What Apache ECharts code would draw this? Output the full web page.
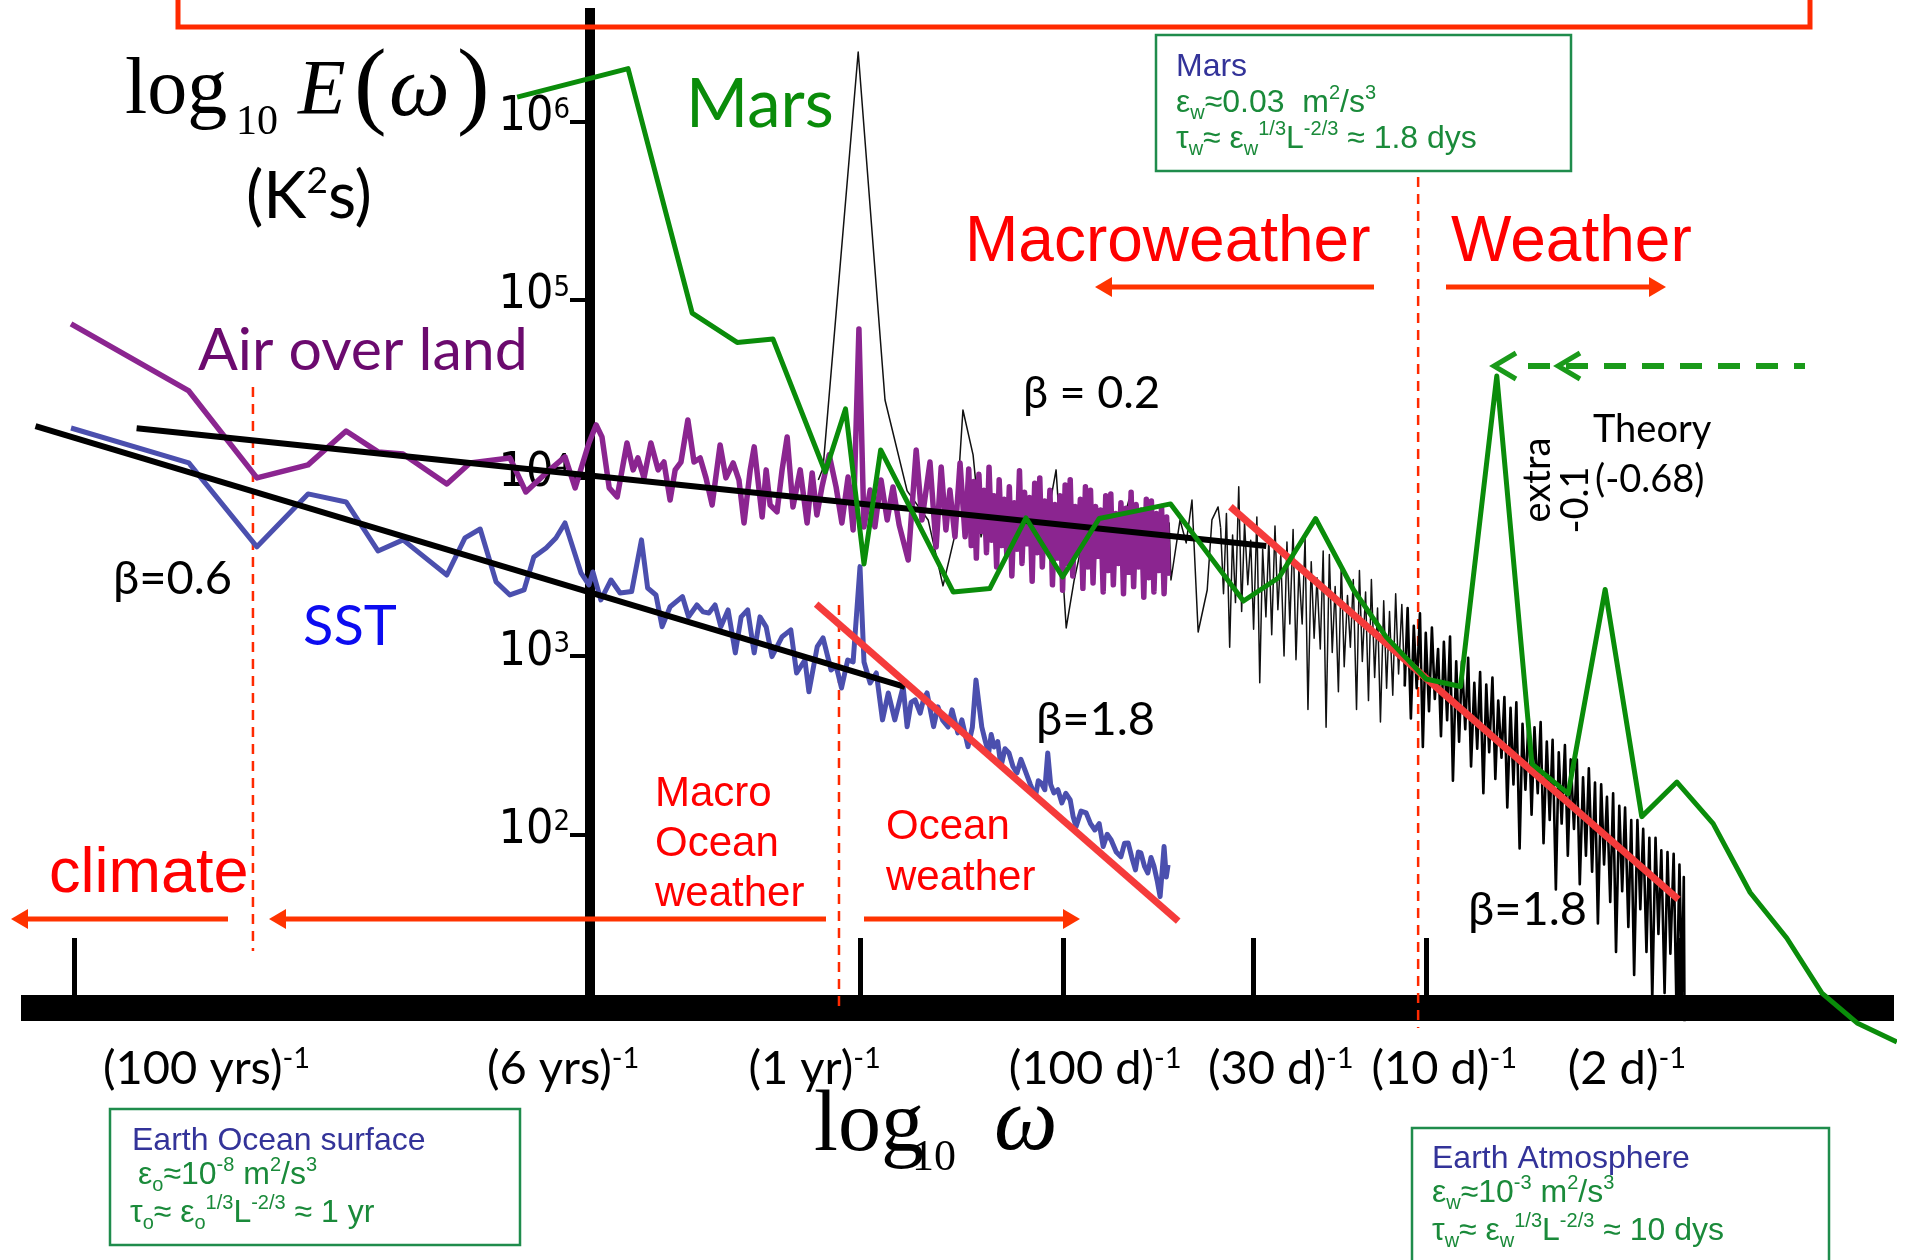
<!DOCTYPE html>
<html><head><meta charset="utf-8">
<script src="https://cdn.jsdelivr.net/npm/echarts@6/dist/echarts.min.js"></script>
<style>html,body{margin:0;padding:0;background:#fff}#c{width:1907px;height:1260px}</style>
</head><body><div id="c"></div><script>
// ---------- DATA (log10 omega [1/yr] , log10 E [K^2 s]) ----------
const yDecades = [2, 3, 4, 5, 6];
const xTickPos = [-2.169, 0, 0.562, 1.085, 1.562, 2.262];
const xLabelPos = [-1.803, -0.819, -0.125, 0.649, 1.161, 1.612, 2.116];
const xLabelText = ['(100 yrs)', '(6 yrs)', '(1 yr)', '(100 d)', '(30 d)', '(10 d)', '(2 d)'];

const airOverLand = [[-2.177,4.864],[-1.852,4.488],[-1.664,4.000],[-1.523,4.073],[-1.418,4.263],[-1.330,4.146],[-1.261,4.134],[-1.140,3.966],[-1.076,4.084],[-0.966,4.112],[-0.922,3.921],[-0.866,4.028],[-0.814,4.118],[-0.786,3.944],[-0.748,4.196],[-0.728,4.297],[-0.712,4.230],[-0.692,3.944],[-0.670,3.893],[-0.643,4.196],[-0.626,4.045],[-0.613,4.112],[-0.596,4.000],[-0.577,4.196],[-0.557,4.045],[-0.541,4.089],[-0.524,3.876],[-0.510,4.045],[-0.494,4.089],[-0.475,4.325],[-0.458,4.089],[-0.441,4.112],[-0.425,4.000],[-0.408,3.848],[-0.386,4.185],[-0.370,4.000],[-0.350,4.084],[-0.334,3.988],[-0.320,3.747],[-0.303,4.045],[-0.292,4.174],[-0.270,3.781],[-0.259,4.045],[-0.248,3.848],[-0.229,3.809],[-0.215,4.045],[-0.201,4.230],[-0.185,3.837],[-0.165,4.045],[-0.146,3.747],[-0.132,4.028],[-0.119,3.792],[-0.105,3.949],[-0.085,4.129],[-0.066,3.949],[-0.050,3.747],[-0.033,4.005],[-0.019,3.708],[-0.003,4.836],[0.011,3.725],[0.028,3.932],[0.041,3.725],[0.058,3.988],[0.075,3.764],[0.091,3.949],[0.108,3.736],[0.133,3.539],[0.155,4.157],[0.171,3.764],[0.193,4.089],[0.210,3.612],[0.224,4.061],[0.237,3.708],[0.248,3.932],[0.262,3.669],[0.276,4.084],[0.290,3.669],
[0.300,4.05],[0.307,3.62],[0.314,3.98],[0.321,3.55],[0.328,4.02],[0.335,3.70],[0.342,3.93],[0.349,3.58],[0.356,4.06],[0.363,3.65],[0.370,3.90],[0.377,3.50],[0.384,3.99],[0.391,3.62],[0.398,3.88],[0.405,3.57],[0.412,3.95],[0.419,3.45],[0.426,3.86],[0.433,3.60],[0.440,4.04],[0.447,3.52],[0.454,3.92],[0.461,3.63],[0.468,3.89],[0.475,3.42],[0.482,3.97],[0.489,3.58],[0.496,4.00],[0.503,3.50],[0.510,3.87],[0.517,3.61],[0.524,3.93],[0.531,3.40],[0.538,3.85],[0.545,3.55],[0.552,3.90],[0.559,3.37],[0.566,3.96],[0.573,3.52],[0.580,3.99],[0.587,3.45],[0.594,3.84],[0.601,3.60],[0.608,3.88],[0.615,3.38],[0.622,3.95],[0.629,3.50],[0.636,3.93],[0.643,3.41],[0.650,3.84],[0.657,3.56],[0.664,3.82],[0.671,3.36],[0.678,3.90],[0.685,3.48],[0.692,3.91],[0.699,3.40],[0.706,3.80],[0.713,3.52],[0.720,3.86],[0.727,3.35],[0.734,3.83],[0.741,3.47],[0.748,3.92],[0.755,3.39],[0.762,3.85],[0.769,3.50],[0.776,3.82],[0.783,3.33],[0.790,3.88],[0.797,3.44],[0.804,3.87],[0.811,3.36],[0.818,3.80],[0.825,3.48],[0.832,3.84],[0.839,3.35],[0.846,3.78],[0.850,3.45]];

const sst = [[-2.177,4.280],[-1.852,4.084],[-1.664,3.613],[-1.523,3.910],[-1.418,3.865],[-1.330,3.590],[-1.261,3.652],[-1.140,3.455],[-1.090,3.663],[-1.048,3.713],[-1.004,3.416],[-0.966,3.343],[-0.927,3.371],[-0.900,3.556],[-0.866,3.607],[-0.839,3.663],[-0.814,3.747],[-0.770,3.467],[-0.748,3.399],[-0.737,3.472],[-0.715,3.315],[-0.687,3.427],[-0.662,3.354],[-0.630,3.362],[-0.603,3.652],[-0.586,3.382],[-0.563,3.343],[-0.546,3.165],[-0.524,3.277],[-0.490,3.334],[-0.473,3.221],[-0.450,3.287],[-0.433,3.248],[-0.417,3.242],[-0.400,3.287],[-0.384,3.165],[-0.364,3.259],[-0.344,3.018],[-0.328,3.220],[-0.310,3.259],[-0.292,3.018],[-0.276,3.220],[-0.259,3.164],[-0.243,2.997],[-0.215,3.109],[-0.191,3.147],[-0.175,2.905],[-0.152,2.978],[-0.141,2.800],[-0.118,3.053],[-0.102,3.102],[-0.080,2.922],[-0.066,2.945],[-0.051,2.821],[-0.034,2.978],[-0.019,2.967],[0.000,3.502],[0.011,2.967],[0.028,2.849],[0.045,2.905],[0.062,2.642],[0.078,2.793],[0.096,2.642],[0.119,2.829],[0.130,2.604],[0.141,2.740],[0.152,2.754],[0.166,2.680],[0.175,2.754],[0.185,2.793],[0.203,2.604],[0.215,2.715],[0.228,2.640],[0.243,2.602],[0.254,2.698],[0.270,2.569],[0.281,2.642],[0.298,2.492],[0.310,2.600],[0.320,2.866],[0.336,2.602],[0.346,2.520],[0.355,2.456],[0.362,2.560],[0.370,2.490],[0.380,2.520],[0.389,2.380],[0.400,2.480],[0.411,2.456],[0.422,2.380],[0.433,2.344],[0.444,2.420],[0.455,2.361],[0.470,2.280],[0.484,2.211],[0.492,2.300],[0.500,2.288],[0.510,2.250],[0.518,2.456],[0.526,2.280],[0.535,2.232],[0.546,2.250],[0.557,2.176],[0.568,2.230],[0.580,2.193],[0.588,2.100],[0.596,2.043],[0.610,2.130],[0.624,2.120],[0.636,2.060],[0.648,2.024],[0.660,2.060],[0.671,1.931],[0.682,2.000],[0.693,1.968],[0.707,1.900],[0.720,1.874],[0.730,1.950],[0.740,1.951],[0.750,1.870],[0.760,1.800],[0.768,1.900],[0.775,1.895],[0.785,1.820],[0.794,1.783],[0.803,1.870],[0.811,1.822],[0.820,1.740],[0.828,1.650],[0.834,1.800],[0.839,1.931],[0.845,1.760],[0.850,1.828]];

const mars = [[-0.946,6.137],[-0.640,6.297],[-0.463,4.925],[-0.339,4.760],[-0.240,4.779],[-0.096,4.033],[-0.040,4.387],[0.011,3.517],[0.057,4.157],[0.257,3.360],[0.358,3.379],[0.458,3.775],[0.559,3.444],[0.660,3.772],[0.757,3.812],[0.857,3.854],[1.058,3.309],[1.156,3.441],[1.257,3.772],[1.362,3.371],[1.451,3.109],[1.562,2.871],[1.657,2.829],[1.757,4.572],[1.854,2.395],[1.954,2.228],[2.056,3.374],[2.157,2.099],[2.254,2.293],[2.354,2.060],[2.456,1.673],[2.557,1.418],[2.654,1.109],[2.751,0.941],[2.861,0.834]];

// Earth atmosphere spectrum, three frequency ranges
const atmosphereLow = [[-0.115,3.988],[-0.102,4.056],[-0.005,6.390],[0.069,4.437],[0.130,3.927],[0.188,3.764],[0.229,3.394],[0.262,3.680],[0.284,4.381],[0.312,4.129],[0.334,3.669],[0.359,3.876],[0.386,3.736],[0.414,3.876],[0.442,3.764],[0.480,3.803],[0.511,3.708],[0.541,4.045],[0.569,3.158],[0.591,3.427],[0.621,3.708],[0.649,3.539],[0.676,3.764],[0.709,3.624],[0.742,3.876],[0.773,3.539],[0.800,3.764],[0.828,3.483],[0.853,3.747],[0.858,3.427],[0.883,3.764],[0.900,3.635],[0.916,3.876],[0.933,3.135],[0.958,3.371],[0.971,3.764],[0.988,3.837],[0.995,3.72]];
const atmosphereMid = [[0.995,3.72],[1.003,3.35],[1.011,3.80],[1.020,3.05],[1.028,3.68],[1.036,3.30],[1.045,3.95],[1.053,3.25],[1.061,3.75],[1.070,3.40],[1.078,3.65],[1.086,3.15],[1.095,3.78],[1.103,2.85],[1.111,3.60],[1.120,3.22],[1.128,3.66],[1.136,3.12],[1.145,3.73],[1.153,3.26],[1.161,3.57],[1.170,3.00],[1.178,3.64],[1.186,3.18],[1.195,3.71],[1.203,2.98],[1.211,3.49],[1.220,3.18],[1.228,3.66],[1.236,2.70],[1.245,3.53],[1.253,3.10],[1.261,3.44],[1.270,3.04],[1.278,3.59],[1.286,2.60],[1.295,3.57],[1.303,3.02],[1.311,3.39],[1.320,2.80],[1.328,3.52],[1.336,2.94],[1.345,3.34],[1.353,3.05],[1.361,3.43],[1.370,2.70],[1.378,3.48],[1.386,2.97],[1.395,3.36],[1.403,2.75],[1.411,3.43],[1.420,2.88],[1.428,3.27],[1.436,2.63],[1.445,3.31],[1.453,2.82],[1.461,3.25],[1.470,2.78],[1.478,3.35],[1.486,2.90],[1.495,3.29],[1.503,2.83]];
const atmosphereHigh = [[1.503,2.83],[1.511,3.27],[1.520,2.65],[1.528,3.17],[1.536,2.82],[1.545,3.24],[1.553,2.49],[1.561,3.13],[1.570,2.69],[1.578,3.16],[1.586,2.76],[1.595,3.04],[1.603,2.55],[1.611,3.08],[1.620,2.64],[1.628,3.11],[1.636,2.30],[1.645,2.97],[1.653,2.52],[1.661,2.97],[1.670,2.59],[1.678,2.99],[1.686,2.38],[1.695,2.85],[1.703,2.48],[1.711,2.91],[1.720,2.23],[1.728,2.84],[1.736,2.46],[1.745,2.88],[1.753,2.31],[1.761,2.75],[1.770,2.43],[1.778,2.77],[1.786,2.15],[1.795,2.71],[1.803,2.28],[1.811,2.74],[1.820,1.92],[1.828,2.62],[1.836,2.25],[1.845,2.66],[1.853,2.11],[1.861,2.60],[1.870,2.23],[1.878,2.63],[1.886,1.95],[1.895,2.52],[1.903,2.08],[1.911,2.53],[1.920,1.69],[1.928,2.46],[1.936,2.06],[1.945,2.50],[1.953,1.88],[1.961,2.42],[1.970,2.03],[1.978,2.42],[1.986,1.72],[1.995,2.32],[2.003,1.88],[2.011,2.37],[2.020,1.79],[2.028,2.29],[2.036,1.50],[2.045,2.28],[2.053,1.83],[2.061,2.21],[2.070,1.62],[2.078,2.23],[2.086,1.34],[2.095,2.16],[2.103,1.68],[2.111,2.15],[2.120,1.48],[2.128,2.08],[2.136,1.21],[2.145,2.08],[2.153,1.58],[2.161,2.03],[2.170,1.34],[2.178,1.98],[2.186,1.07],[2.195,1.98],[2.203,1.44],[2.211,1.91],[2.220,1.11],[2.228,1.90],[2.236,1.33],[2.245,1.89],[2.253,1.00],[2.261,1.83],[2.268,1.12],[2.273,1.76],[2.275,0.95]];

const fitAir = [[-1.996,4.278],[1.121,3.618]];      // beta = 0.2
const fitSst = [[-2.275,4.291],[0.124,2.827]];      // beta = 0.6
const fitOcean = [[-0.121,3.292],[0.878,1.513]];    // beta = 1.8
const fitAtm = [[1.022,3.838],[2.258,1.635]];       // beta = 1.8
const breakClimate = [[-1.675,4.510],[-1.675,1.345]];
const breakOcean = [[-0.058,3.287],[-0.058,1.025]];
const breakWeather = [[1.540,5.689],[1.540,0.913]];

// ---------- STYLE ----------
const SANS = 'Lato, "Open Sans", "Noto Sans", sans-serif';
const ARIAL = '"Liberation Sans", Arial, sans-serif';
const NARROW = '"Liberation Sans Narrow", "DejaVu Sans Condensed", "Liberation Sans", sans-serif';
const SERIF = '"Liberation Serif", "DejaVu Serif", serif';
const RED = '#ff0000', ARROW = '#ff3300', BOXC = '#1f8c4c', BOXT = '#333399', BOXG = '#1a8a3a';

function line(name, data, color, width, extra) {
  return Object.assign({
    type: 'line', name: name, data: data, symbol: 'none', showSymbol: false, clip: false,
    silent: true, animation: false,
    lineStyle: Object.assign({ color: color, width: width, join: 'round' }, (extra && extra.ls) || {})
  }, (extra && extra.s) || {});
}

const G = [];
function txt(x, y, s, font, fill, o) {
  o = o || {};
  const st = Object.assign({ text: s, font: font, fill: fill, align: o.align || 'left', verticalAlign: 'middle',
    textAlign: o.align || 'left', textVerticalAlign: 'middle' }, o.style || {});
  const e = { type: 'text', x: x, y: y, z: 100, style: st };
  if (o.rotation) e.rotation = o.rotation;
  G.push(e);
}
function arrow(x1, x2, y, color, w, hl, hw) {
  const d = x2 > x1 ? 1 : -1;
  G.push({ type: 'line', z: 90, shape: { x1: x1, y1: y, x2: x2 - d * hl * 0.7, y2: y }, style: { stroke: color, lineWidth: w } });
  G.push({ type: 'polygon', z: 90, shape: { points: [[x2, y], [x2 - d * hl, y - hw / 2], [x2 - d * hl, y + hw / 2]] }, style: { fill: color } });
}
function rect(x, y, w, h, color, lw) {
  G.push({ type: 'rect', z: 80, shape: { x: x, y: y, width: w, height: h }, style: { fill: 'none', stroke: color, lineWidth: lw } });
}
const boxRich = {
  n: { fontSize: 32, fontFamily: ARIAL, lineHeight: 40, fill: BOXG },
  b: { fontSize: 20, fontFamily: ARIAL, lineHeight: 20, verticalAlign: 'bottom', fill: BOXG },
  p: { fontSize: 20, fontFamily: ARIAL, lineHeight: 20, verticalAlign: 'top', fill: BOXG }
};
function rich(x, y, s, r) {
  G.push({ type: 'text', x: x, y: y, z: 100, style: { text: s, rich: r, align: 'left', verticalAlign: 'middle', textAlign: 'left', textVerticalAlign: 'middle' } });
}

// top red frame
rect(178, -20, 1632, 47, '#ff2a00', 5);

// axis titles
txt(125, 91.5, 'log', '80px ' + SERIF, '#000');
txt(236, 122.8, '10', '42px ' + SERIF, '#000');
txt(298, 92.8, 'E', 'italic 78px ' + SERIF, '#000');
txt(354, 90.6, '(', '98px ' + SERIF, '#000');
txt(389, 92, 'ω', 'italic 86px ' + SERIF, '#000');
txt(457, 90.6, ')', '98px ' + SERIF, '#000');
rich(246, 197, '{n|(K}{s|2}{n|s)}', {
  n: { fontSize: 65, fontFamily: SANS, lineHeight: 68, fill: '#000' },
  s: { fontSize: 37, fontFamily: SANS, lineHeight: 36, verticalAlign: 'top', fill: '#000' }
});
txt(814, 1127, 'log', '86px ' + SERIF, '#000');
txt(912, 1158, '10', '44px ' + SERIF, '#000');
txt(994, 1125.6, 'ω', 'italic 90px ' + SERIF, '#000');

// series labels
txt(686, 105.5, 'Mars', '67px ' + SANS, '#0a8c0a');
txt(198, 350.7, 'Air over land', '59px ' + SANS, '#6b0a6e');
txt(303, 626.7, 'SST', '56px ' + SANS, '#0c0cf0');
txt(113, 579, 'β=0.6', '47px ' + SANS, '#000');
txt(1023, 393, 'β = 0.2', '45px ' + SANS, '#000');
txt(1036, 720, 'β=1.8', '47px ' + SANS, '#000');
txt(1468, 910, 'β=1.8', '47px ' + SANS, '#000');
txt(1593, 430, 'Theory', '38px ' + SANS, '#000');
txt(1595, 480, '(-0.68)', '38px ' + SANS, '#000');
txt(1538, 480, 'extra', '38px ' + SANS, '#000', { align: 'center', rotation: Math.PI / 2 });
txt(1576, 500, '-0.1', '38px ' + SANS, '#000', { align: 'center', rotation: Math.PI / 2 });

// regime labels
txt(965, 243, 'Macroweather', '64px ' + ARIAL, RED);
txt(1451, 243, 'Weather', '64px ' + ARIAL, RED);
txt(49, 875, 'climate', '63px ' + ARIAL, RED);
txt(655, 794.5, 'Macro', '42px ' + ARIAL, RED);
txt(655, 844.5, 'Ocean', '42px ' + ARIAL, RED);
txt(655, 894.5, 'weather', '42px ' + ARIAL, RED);
txt(886, 827.4, 'Ocean', '42px ' + ARIAL, RED);
txt(886, 878.4, 'weather', '42px ' + ARIAL, RED);

// arrows
arrow(1374, 1095, 287, ARROW, 5, 17, 20);
arrow(1446, 1666, 287, ARROW, 5, 17, 20);
arrow(228, 11, 919, ARROW, 5, 17, 20);
arrow(826, 269, 919, ARROW, 5, 17, 20);
arrow(864, 1080, 919, ARROW, 5, 17, 20);

// theory dashed arrow
G.push({ type: 'line', z: 90, shape: { x1: 1528, y1: 366, x2: 1805, y2: 366 }, style: { stroke: '#1a9a1a', lineWidth: 6, lineDash: [22, 16] } });
G.push({ type: 'polyline', z: 90, shape: { points: [[1516, 353], [1494, 366], [1516, 379]] }, style: { stroke: '#1a9a1a', lineWidth: 5, fill: 'none' } });
G.push({ type: 'polyline', z: 90, shape: { points: [[1580, 353], [1558, 366], [1580, 379]] }, style: { stroke: '#1a9a1a', lineWidth: 5, fill: 'none' } });

// info boxes
rect(1156, 35, 415, 136, BOXC, 2.5);
txt(1176, 67.2, 'Mars', '32px ' + ARIAL, BOXT);
rich(1176, 103.4, '{n|ε}{b|w}{n|≈0.03  m}{p|2}{n|/s}{p|3}', boxRich);
rich(1176, 139.6, '{n|τ}{b|w}{n|≈ ε}{b|w}{p|1/3}{n|L}{p|-2/3}{n| ≈ 1.8 dys}', boxRich);

rect(110, 1109, 410, 136, BOXC, 2.5);
txt(132, 1140.9, 'Earth Ocean surface', '32px ' + ARIAL, BOXT);
rich(138, 1175.4, '{n|ε}{b|o}{n|≈10}{p|-8}{n| m}{p|2}{n|/s}{p|3}', boxRich);
rich(130, 1213.5, '{n|τ}{b|o}{n|≈ ε}{b|o}{p|1/3}{n|L}{p|-2/3}{n| ≈ 1 yr}', boxRich);

rect(1412, 1128, 417, 150, BOXC, 2.5);
txt(1432, 1158.9, 'Earth Atmosphere', '32px ' + ARIAL, BOXT);
rich(1432, 1193.4, '{n|ε}{b|w}{n|≈10}{p|-3}{n| m}{p|2}{n|/s}{p|3}', boxRich);
rich(1432, 1231.6, '{n|τ}{b|w}{n|≈ ε}{b|w}{p|1/3}{n|L}{p|-2/3}{n| ≈ 10 dys}', boxRich);

// ---------- CHART ----------
const chart = echarts.init(document.getElementById('c'), null, { renderer: 'canvas' });
const dashRed = { ls: { type: [10, 7], cap: 'butt' } };
chart.setOption({
  animation: false,
  backgroundColor: '#ffffff',
  grid: { left: 21, right: 13, top: 8, bottom: 252, containLabel: false, outerBoundsMode: 'none' },
  xAxis: {
    type: 'value', min: -2.315, max: 2.853,
    axisLine: { show: true, onZero: false, lineStyle: { color: '#000', width: 26, cap: 'butt' } },
    axisTick: { show: true, inside: true, length: 70, customValues: xTickPos, lineStyle: { color: '#000', width: 5 } },
    axisLabel: {
      show: true, customValues: xLabelPos, margin: 36,
      formatter: function (v) {
        let idx = 0, best = 1e9;
        xLabelPos.forEach(function (p, i) { const d = Math.abs(p - v); if (d < best) { best = d; idx = i; } });
        return '{n|' + xLabelText[idx] + '}{s|-1}';
      },
      rich: {
        n: { fontSize: 47, fontFamily: SANS, color: '#000', lineHeight: 50 },
        s: { fontSize: 29, fontFamily: SANS, color: '#000', lineHeight: 28, verticalAlign: 'top' }
      }
    },
    splitLine: { show: false }
  },
  yAxis: {
    type: 'value', min: 1.025, max: 6.637, offset: -569,
    axisLine: { show: true, onZero: false, lineStyle: { color: '#000', width: 10, cap: 'butt' } },
    axisTick: { show: true, length: 20, customValues: yDecades, lineStyle: { color: '#000', width: 4 } },
    axisLabel: {
      show: true, customValues: yDecades, margin: 20,
      formatter: function (v) { return '{b|10}{s|' + Math.round(v) + '}'; },
      rich: {
        b: { fontSize: 48, fontFamily: NARROW, color: '#000', lineHeight: 52, padding: [0, 0, 8, 0] },
        s: { fontSize: 29, fontFamily: NARROW, color: '#000', lineHeight: 28, verticalAlign: 'top' }
      }
    },
    splitLine: { show: false }
  },
  series: [
    line('Break climate', breakClimate, '#ff2a00', 2.5, dashRed),
    line('Break ocean', breakOcean, '#ff2a00', 2.5, dashRed),
    line('Break weather', breakWeather, '#ff2a00', 2.5, dashRed),
    line('Earth atmosphere (low)', atmosphereLow, '#111111', 1.5),
    line('Earth atmosphere (mid)', atmosphereMid, '#111111', 1.5),
    line('Earth atmosphere (high)', atmosphereHigh, '#000000', 2.6),
    line('Air over land', airOverLand, '#8b2590', 5.5),
    line('SST', sst, '#4b4fae', 5),
    line('Fit air', fitAir, '#000', 6, { ls: { cap: 'butt' } }),
    line('Fit SST', fitSst, '#000', 6, { ls: { cap: 'butt' } }),
    line('Fit ocean', fitOcean, '#f53b3b', 7, { ls: { cap: 'butt' } }),
    line('Fit atmosphere', fitAtm, '#f53b3b', 7, { ls: { cap: 'butt' } }),
    line('Mars', mars, '#0a8c0a', 5)
  ],
  graphic: { elements: G }
});
</script></body></html>
